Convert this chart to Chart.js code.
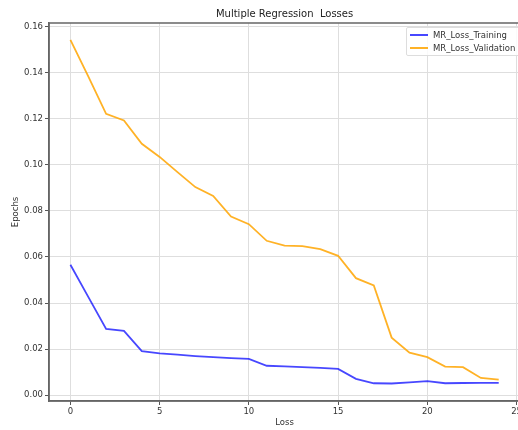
<!DOCTYPE html>
<html>
<head>
<meta charset="utf-8">
<script src="https://cdn.jsdelivr.net/npm/chart.js@4"></script>
<style>
  html, body { margin: 0; padding: 0; background: #fff; overflow: hidden; }
  #wrap { position: relative; width: 524px; height: 430px; }
  #legend {
    position: absolute; left: 406px; top: 27px; width: 114px; height: 27px;
    border: 1px solid #ddd; border-radius: 2px; background: rgba(255,255,255,0.85);
    font-family: "DejaVu Sans", sans-serif; font-size: 8.5px; color: #333;
  }
  .lg-row { position: absolute; left: 0; height: 12px; line-height: 12px; white-space: nowrap; }
  .lg-line { position: absolute; left: 3px; top: 5px; width: 18px; height: 2px; }
  .lg-text { position: absolute; left: 26px; top: 0; }
</style>
</head>
<body>
<div id="wrap">
  <canvas id="lossChart" width="524" height="430"></canvas>
  <div id="legend"></div>
</div>
<script>
// ── Multiple Regression Losses ──
const epochs = [0, 1, 2, 3, 4, 5, 6, 7, 8, 9, 10, 11, 12, 13, 14, 15, 16, 17, 18, 19, 20, 21, 22, 23, 24];
const trainLoss = [0.0566, 0.0427, 0.0288, 0.0279, 0.0191, 0.0182, 0.0176, 0.0170, 0.0165, 0.0161, 0.0158, 0.0128, 0.0125,
                   0.0122, 0.0119, 0.0114, 0.0071, 0.0052, 0.0051, 0.0056, 0.0061, 0.0052, 0.0053, 0.0054, 0.0054];
const valLoss = [0.1542, 0.1383, 0.1221, 0.1192, 0.1091, 0.1034, 0.0968, 0.0903, 0.0865, 0.0775, 0.0742, 0.0670, 0.0649,
                 0.0647, 0.0634, 0.0605, 0.0508, 0.0476, 0.0250, 0.0185, 0.0165, 0.0124, 0.0122, 0.0075, 0.0068];
const xTicks = [0, 5, 10, 15, 20, 25];
const yTicks = [0.00, 0.02, 0.04, 0.06, 0.08, 0.10, 0.12, 0.14, 0.16];

const seriesNames = ['MR_Loss_Training', 'MR_Loss_Validation'];
const seriesColors = ['rgba(0,0,255,0.72)', 'rgba(255,165,0,0.85)'];

const FONT = '"DejaVu Sans", sans-serif';

// axes frame like matplotlib spines
const framePlugin = {
  id: 'frame',
  afterDraw(chart) {
    const { ctx, chartArea: a } = chart;
    ctx.save();
    ctx.strokeStyle = '#666';
    ctx.lineWidth = 1.5;
    ctx.strokeRect(a.left, a.top, a.right - a.left, a.bottom - a.top);
    ctx.restore();
  }
};

const toPts = arr => arr.map((v, i) => ({ x: epochs[i], y: v }));

const chart = new Chart(document.getElementById('lossChart').getContext('2d'), {
  type: 'line',
  data: {
    datasets: [
      { label: seriesNames[0], data: toPts(trainLoss), borderColor: seriesColors[0], borderWidth: 1.8, pointRadius: 0, tension: 0, fill: false },
      { label: seriesNames[1], data: toPts(valLoss), borderColor: seriesColors[1], borderWidth: 1.8, pointRadius: 0, tension: 0, fill: false }
    ]
  },
  options: {
    responsive: false,
    animation: false,
    layout: { padding: 0 },
    plugins: {
      legend: { display: false },
      tooltip: { enabled: false },
      title: {
        display: true, text: 'Multiple Regression  Losses', fullSize: false,
        color: '#222', font: { family: FONT, size: 10, weight: 'normal' },
        padding: { top: 8, bottom: 3 }
      }
    },
    scales: {
      x: {
        type: 'linear', min: -1.2, max: 25.2,
        afterBuildTicks: s => { s.ticks = xTicks.map(v => ({ value: v })); },
        afterFit: s => { s.height = 29; },
        grid: { color: '#dedede', lineWidth: 1, drawTicks: true, tickLength: 4, tickColor: '#555' },
        border: { display: true, color: '#666', width: 1.5 },
        ticks: { color: '#333', font: { family: FONT, size: 8.5 }, padding: 2, maxRotation: 0, callback: v => String(v) },
        title: { display: true, text: 'Loss', color: '#333', font: { family: FONT, size: 8.5 }, padding: { top: 0, bottom: 2 } }
      },
      y: {
        min: -0.0025, max: 0.1615,
        afterBuildTicks: s => { s.ticks = yTicks.map(v => ({ value: v })); },
        afterFit: s => { s.width = 49; },
        grid: { color: '#dedede', lineWidth: 1, drawTicks: true, tickLength: 4, tickColor: '#555' },
        border: { display: true, color: '#666', width: 1.5 },
        ticks: { color: '#333', font: { family: FONT, size: 8.5 }, padding: 2, callback: v => v.toFixed(2) },
        title: { display: true, text: 'Epochs', color: '#333', font: { family: FONT, size: 8.5 }, padding: { top: 11, bottom: 0 } }
      }
    }
  },
  plugins: [framePlugin]
});

// HTML legend built from the datasets
document.getElementById('legend').innerHTML = chart.data.datasets.map((d, i) => `
  <div class="lg-row" style="top:${1 + i * 12.5}px">
    <div class="lg-line" style="background:${d.borderColor}"></div>
    <div class="lg-text">${d.label}</div>
  </div>
`).join('');
</script>
</body>
</html>
